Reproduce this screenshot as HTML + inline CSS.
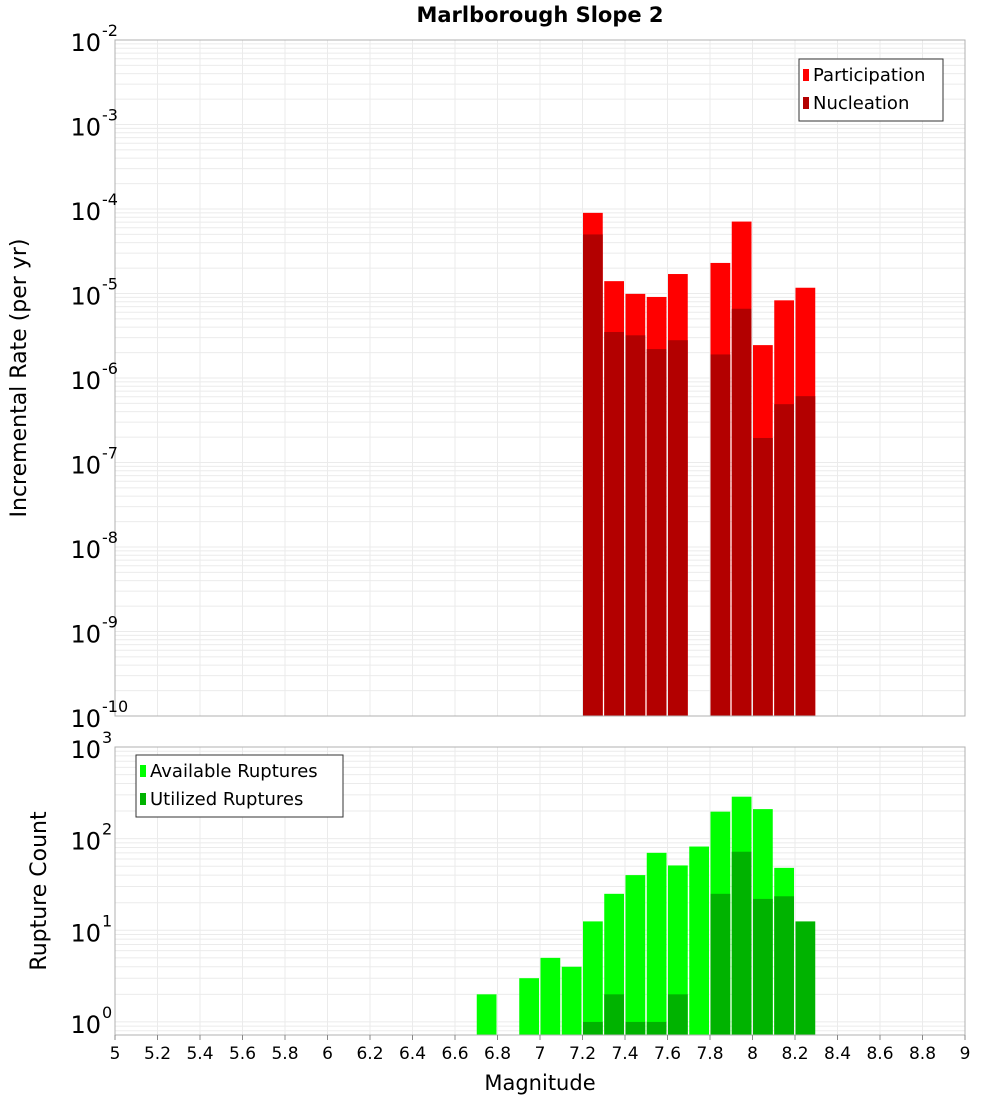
<!DOCTYPE html>
<html><head><meta charset="utf-8"><style>
body{margin:0;background:#fff;}
svg text{font-family:"DejaVu Sans","Liberation Sans",sans-serif;}
</style></head><body>
<svg id="chart" width="1000" height="1100" xmlns="http://www.w3.org/2000/svg">
<text x="540" y="22" font-size="21" font-weight="bold" text-anchor="middle">Marlborough Slope 2</text>
<g id="top"></g><g id="bot"></g>
<text transform="translate(26,378) rotate(-90)" font-size="22" text-anchor="middle">Incremental Rate (per yr)</text>
<text transform="translate(46,891) rotate(-90)" font-size="22" text-anchor="middle">Rupture Count</text>
<text x="540" y="1090" font-size="21" text-anchor="middle">Magnitude</text>
</svg>
<script>
const magsTop=[7.25,7.35,7.45,7.55,7.65,7.85,7.95,8.05,8.15,8.25];
const participation=[9e-5,1.4e-5,9.9e-6,9.1e-6,1.7e-5,2.3e-5,7.1e-5,2.45e-6,8.3e-6,1.17e-5];
const nucleation=[5e-5,3.5e-6,3.2e-6,2.2e-6,2.8e-6,1.9e-6,6.6e-6,1.95e-7,4.9e-7,6.1e-7];
const magsAvail=[6.75,6.95,7.05,7.15,7.25,7.35,7.45,7.55,7.65,7.75,7.85,7.95,8.05,8.15];
const available=[2,3,5,4,12.5,25,40,70,51,82,197,287,210,48];
const magsUsed=[7.25,7.35,7.45,7.55,7.65,7.85,7.95,8.05,8.15,8.25];
const utilized=[1,2,1,1,2,25,72,22,23.5,12.5];
const xTicks=[5,5.2,5.4,5.6,5.8,6,6.2,6.4,6.6,6.8,7,7.2,7.4,7.6,7.8,8,8.2,8.4,8.6,8.8,9];
const topExp=[-2,-3,-4,-5,-6,-7,-8,-9,-10];
const botExp=[3,2,1,0];
const NS="http://www.w3.org/2000/svg";
const L=115,R=965;
const x=m=>L+(m-5)/4*(R-L);
function mk(p,t,a){const e=document.createElementNS(NS,t);for(const k in a)e.setAttribute(k,a[k]);p.appendChild(e);return e;}
function panel(g,top,bot,eMax,eMin,name){
  const y=v=>top+(eMax-Math.log10(v))/(eMax-eMin)*(bot-top);
  const bg=mk(g,'rect',{x:L,y:top,width:R-L,height:bot-top,fill:'#fff'});
  
  for(let e=Math.floor(eMin);e<eMax;e++)for(let k=1;k<10;k++){const yy=y(k*Math.pow(10,e));if(yy<top||yy>bot)continue;
    const l=mk(g,'line',{x1:L,x2:R,y1:yy,y2:yy,stroke:'#ebebeb','stroke-width':1});}
  xTicks.forEach(t=>{const l=mk(g,'line',{x1:x(t),x2:x(t),y1:top,y2:bot,stroke:'#ebebeb'});});
  return y;
}
function bars(g,y,mags,vals,bot,color,name){
  mags.forEach((m,i)=>{const x0=x(m-0.05),yy=y(vals[i]);
    const r=mk(g,'rect',{x:x0+0.5,y:yy,width:x(m+0.05)-x0-1.5,height:bot-yy,fill:color});
    });
}
function yLabels(g,y,exps,top,bot){
  exps.forEach(e=>{const yy=Math.min(Math.max(y(Math.pow(10,e)),top),bot);
    const t=mk(g,'text',{x:101,y:yy+11,'font-size':24,'text-anchor':'end'});t.textContent='10';
    
    const s=mk(g,'text',{x:102,y:yy-4,'font-size':16});s.textContent=String(e).replace('-','-');
    });
}
function legend(g,x0,y0,w,items,name){
  const b=mk(g,'rect',{x:x0,y:y0,width:w,height:62,fill:'#fff',stroke:'#333'});
  
  items.forEach((it,i)=>{const r=mk(g,'rect',{x:x0+4,y:y0+10+i*28,width:6,height:12,fill:it[1]});
    
    const t=mk(g,'text',{x:x0+14,y:y0+22+i*28,'font-size':18});t.textContent=it[0];
    });
}
const gt=document.getElementById('top'),gb=document.getElementById('bot');
const yt=panel(gt,40,716,-2,-10,'top');
bars(gt,yt,magsTop,participation,716,'#ff0000','participation');
bars(gt,yt,magsTop,nucleation,716,'#b30000','nucleation');
mk(gt,'rect',{x:L,y:40,width:R-L,height:676,fill:'none',stroke:'#b0b0b0'});
yLabels(gt,yt,topExp,40,716);
legend(gt,799,59,144,[['Participation','#ff0000'],['Nucleation','#b30000']],'top-legend');
const yb=panel(gb,747,1035,3,Math.log10(0.72),'bottom');
bars(gb,yb,magsAvail,available,1035,'#00ff00','available');
bars(gb,yb,magsUsed,utilized,1035,'#00b300','utilized');
mk(gb,'rect',{x:L,y:747,width:R-L,height:288,fill:'none',stroke:'#b0b0b0'});
yLabels(gb,yb,botExp,747,1035);
legend(gb,136,755,207,[['Available Ruptures','#00ff00'],['Utilized Ruptures','#00b300']],'bottom-legend');
xTicks.forEach(t=>{const l=mk(gb,'line',{x1:x(t),x2:x(t),y1:1035,y2:1040,stroke:'#888'});
  
  const tx=mk(gb,'text',{x:x(t),y:1059,'font-size':17,'text-anchor':'middle'});tx.textContent=String(t);
  });
</script>
</body></html>
